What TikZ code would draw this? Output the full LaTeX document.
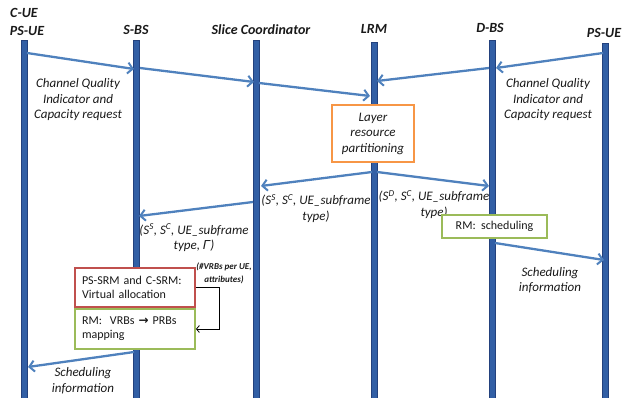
\documentclass[tikz,border=0pt]{standalone}
\usepackage{fontspec}
\setmainfont{Carlito}
\newfontfamily\grk{Liberation Sans}
\newfontfamily\arrfont{DejaVu Sans}
\usetikzlibrary{arrows.meta}
\definecolor{barfill}{RGB}{50,95,165}
\definecolor{baredge}{RGB}{35,65,125}
\definecolor{arr}{RGB}{79,129,189}
\definecolor{orangeb}{RGB}{247,150,70}
\definecolor{greenb}{RGB}{155,187,89}
\definecolor{redb}{RGB}{192,80,77}
\definecolor{txt}{RGB}{25,25,25}
\begin{document}
\begin{tikzpicture}[x=1pt,y=-1pt,
  lifeline/.style={draw=baredge,fill=barfill,line width=0.8pt,minimum width=6pt,inner sep=0pt,anchor=north},
  head/.style={font=\fontsize{14}{16}\selectfont\bfseries\itshape,text=txt,inner sep=0pt},
  msg/.style={draw=arr,line width=2.3pt,-{Straight Barb[length=5pt,width=11pt,line width=2pt]}},
  lbl/.style={font=\fontsize{13}{15.5}\selectfont\itshape,text=txt,align=center,inner sep=0pt},
  boxtxt/.style={font=\fontsize{12}{14}\selectfont,text=txt},
  obox/.style={draw=orangeb,line width=1.8pt,fill=white,align=center,font=\fontsize{13}{15.5}\selectfont\itshape,text=txt},
  gbox/.style={draw=greenb,line width=1.8pt,fill=white,boxtxt},
  rbox/.style={draw=redb,line width=1.8pt,fill=white,boxtxt}
]
\useasboundingbox (0,0) rectangle (622,398);
% lifelines
\node[lifeline,minimum height=358pt] (L1) at (24.5,40) {};
\node[lifeline,minimum height=358pt] (L2) at (136.5,40) {};
\node[lifeline,minimum height=358pt] (L3) at (256,40) {};
\node[lifeline,minimum height=356pt] (L4) at (374.5,42) {};
\node[lifeline,minimum height=358pt] (L5) at (492.5,40) {};
\node[lifeline,minimum height=355pt] (L6) at (605.5,43) {};
% headers
\node[head] (h1a) at (24,13) {C-UE};
\node[head] (h1b) at (27,31) {PS-UE};
\node[head] (h2) at (136,30) {S-BS};
\node[head] (h3) at (261,30) {Slice Coordinator};
\node[head] (h4) at (374,29) {LRM};
\node[head] (h5) at (490,28) {D-BS};
\node[head] (h6) at (604,33) {PS-UE};
% arrow endpoints
\coordinate (a1s) at (27,53);   \coordinate (a1e) at (134,69);
\coordinate (a2s) at (140,68);  \coordinate (a2e) at (254,82);
\coordinate (a3s) at (259,83);  \coordinate (a3e) at (370,96);
\coordinate (a4s) at (603,53);  \coordinate (a4e) at (496,68);
\coordinate (a5s) at (489,68);  \coordinate (a5e) at (377,81);
\coordinate (a6s) at (372,172); \coordinate (a6e) at (261,186);
\coordinate (a7s) at (377,172); \coordinate (a7e) at (489,186);
\coordinate (a8s) at (253,202); \coordinate (a8e) at (139,216);
\coordinate (a9s) at (495,243); \coordinate (a9e) at (604,260);
\coordinate (a10s) at (134,352); \coordinate (a10e) at (28,367);
\draw[msg] (a1s) -- (a1e);
\draw[msg] (a2s) -- (a2e);
\draw[msg] (a3s) -- (a3e);
\draw[msg] (a4s) -- (a4e);
\draw[msg] (a5s) -- (a5e);
\draw[msg] (a6s) -- (a6e);
\draw[msg] (a7s) -- (a7e);
\draw[msg] (a8s) -- (a8e);
\draw[msg] (a9s) -- (a9e);
\draw[msg] (a10s) -- (a10e);
% labels
\node[lbl] (t1) at (78,100) {Channel Quality\\Indicator and\\Capacity request};
\node[lbl] (t2) at (548,100) {Channel Quality\\Indicator and\\Capacity request};
\node[lbl] (t3) at (316,208.5) {(S\textsuperscript{S}, S\textsuperscript{C}, UE\_subframe\\type)};
\node[lbl] (t4) at (434,204.5) {(S\textsuperscript{D}, S\textsuperscript{C}, UE\_subframe\\type)};
\node[lbl] (t5) at (194,238) {(S\textsuperscript{S}, S\textsuperscript{C}, UE\_subframe\\type, {\grk\itshape Γ})};
\node[lbl] (t6) at (550,280) {Scheduling\\information};
\node[lbl] (t7) at (83,380.5) {Scheduling\\information};
\node[lbl,font=\fontsize{9}{13}\selectfont\bfseries\itshape] (t8) at (224,273) {(\#VRBs per UE,\\attributes)};
% boxes
\node[obox,minimum width=82pt,minimum height=57pt,inner sep=0pt] (lrp) at (373,133.5) {Layer\\resource\\partitioning};
\node[gbox,minimum width=105pt,minimum height=23pt,inner sep=0pt] (sch) at (494.5,226.5) {RM:\ \ scheduling};
\node[rbox,minimum width=120pt,minimum height=39pt,text width=106pt,inner xsep=7pt,align=left] (va) at (135,287.5) {PS-SRM and C-SRM:\\Virtual allocation};
\node[gbox,minimum width=120pt,minimum height=40pt,text width=106pt,inner xsep=7pt,align=left] (map) at (135,329) {RM:\ \ VRBs {\arrfont\bfseries →} PRBs\\mapping};
\draw[black,line width=0.8pt,-{Straight Barb[length=3pt,width=7pt]}] (va.east) -- ++(23,0) |- (map.east);
\end{tikzpicture}
\end{document}
